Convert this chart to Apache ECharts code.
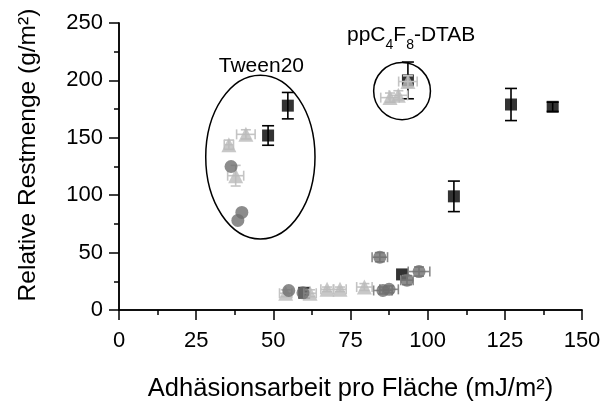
<!DOCTYPE html>
<html>
<head>
<meta charset="utf-8">
<script src="https://cdn.jsdelivr.net/npm/echarts@6/dist/echarts.min.js"></script>
<style>
  html, body { margin: 0; padding: 0; background: #fff; }
  #chart { width: 607px; height: 407px; }
</style>
</head>
<body>
<div id="chart"></div>
<script>
// Axis ranges and ticks
const xTicks = [0, 25, 50, 75, 100, 125, 150];
const yTicks = [0, 50, 100, 150, 200, 250];

// Black squares with vertical error
const squareX = [48.3, 54.7, 93.6, 91.7, 60.0, 108.5, 127.0, 140.5];
const squareY = [152, 178, 200, 31, 15, 99, 179, 177];
const squareYErr = [8.5, 11.5, 16, 0, 0, 13.3, 14, 4];

// Light grey triangles
const triX = [41.1, 35.6, 37.8, 54.0, 61.9, 67.4, 71.6, 79.5, 87.8, 90.5, 93.6];
const triY = [153, 144, 117, 14.6, 14.6, 18, 18, 20, 185, 187, 199];
const triXErr = [3, 1.5, 2.6, 2, 2, 2, 2, 2.5, 3, 3, 3];
const triYErr = [4, 4, 9, 3, 3, 2, 2, 3, 4, 4, 5];

// Grey circles
const circX = [36.3, 39.8, 38.5, 55.0, 59.6, 84.5, 85.5, 87.5, 93.3, 97.2];
const circY = [125, 85, 78, 17, 15, 46, 17, 18, 26, 33.5];
const circXErr = [0, 0, 0, 0, 0, 2.5, 3, 3, 2, 3.5];
const circYErr = [0, 0, 0, 0, 0, 4, 3, 3, 4, 4];

// Group outlines: centre x, centre y, half width (x units), half height (y units)
const tweenGroup = [45.8, 133.2, 17.7, 71.3];
const fluoroGroup = [91.7, 190.7, 9.2, 24.9];

const FONT = 'Liberation Sans, Arial, sans-serif';

function zip(...arrs) { return arrs[0].map((_, i) => arrs.map(a => a[i])); }

function errorBars(color, cap) {
  return function (params, api) {
    const x = api.value(0), y = api.value(1), ex = api.value(2), ey = api.value(3);
    const children = [];
    const style = { stroke: color, lineWidth: 1.6 };
    if (ey > 0) {
      const top = api.coord([x, y + ey]);
      const bot = api.coord([x, y - ey]);
      children.push({ type: 'line', shape: { x1: top[0], y1: top[1], x2: bot[0], y2: bot[1] }, style });
      children.push({ type: 'line', shape: { x1: top[0] - cap, y1: top[1], x2: top[0] + cap, y2: top[1] }, style });
      children.push({ type: 'line', shape: { x1: bot[0] - cap, y1: bot[1], x2: bot[0] + cap, y2: bot[1] }, style });
    }
    if (ex > 0) {
      const l = api.coord([x - ex, y]);
      const r = api.coord([x + ex, y]);
      children.push({ type: 'line', shape: { x1: l[0], y1: l[1], x2: r[0], y2: r[1] }, style });
      children.push({ type: 'line', shape: { x1: l[0], y1: l[1] - cap, x2: l[0], y2: l[1] + cap }, style });
      children.push({ type: 'line', shape: { x1: r[0], y1: r[1] - cap, x2: r[0], y2: r[1] + cap }, style });
    }
    return { type: 'group', children };
  };
}

const chart = echarts.init(document.getElementById('chart'), null, { renderer: 'canvas' });

const axisLine = { show: true, lineStyle: { color: '#000', width: 1.5 } };
const tickStyle = { color: '#000', width: 1.5 };

const option = {
  backgroundColor: '#fff',
  animation: false,
  grid: { left: 119, right: 25, top: 23, bottom: 94 },
  xAxis: [{
    type: 'value', min: xTicks[0], max: xTicks[xTicks.length - 1], interval: 25,
    position: 'bottom',
    axisLine, splitLine: { show: false },
    axisTick: { show: true, inside: false, length: 10, lineStyle: tickStyle },
    minorTick: { show: true, splitNumber: 2, length: 5, lineStyle: tickStyle },
    axisLabel: { color: '#000', fontSize: 22, fontFamily: FONT, margin: 20 },
    name: 'Adhäsionsarbeit pro Fläche (mJ/m²)', nameLocation: 'middle', nameGap: 66,
    nameTextStyle: { color: '#000', fontSize: 25.5, fontFamily: FONT }
  }, {
    type: 'value', min: xTicks[0], max: xTicks[xTicks.length - 1], interval: 25,
    position: 'top',
    axisLine, splitLine: { show: false },
    axisTick: { show: true, inside: true, length: 7, lineStyle: tickStyle },
    minorTick: { show: true, splitNumber: 2, length: 4, lineStyle: tickStyle },
    axisLabel: { show: false }
  }],
  yAxis: [{
    type: 'value', min: yTicks[0], max: yTicks[yTicks.length - 1], interval: 50,
    position: 'left',
    axisLine, splitLine: { show: false },
    axisTick: { show: true, inside: false, length: 10, lineStyle: tickStyle },
    minorTick: { show: true, splitNumber: 2, length: 5, lineStyle: tickStyle },
    axisLabel: { color: '#000', fontSize: 22, fontFamily: FONT, margin: 16 }
  }, {
    type: 'value', min: yTicks[0], max: yTicks[yTicks.length - 1], interval: 50,
    position: 'right',
    axisLine, splitLine: { show: false },
    axisTick: { show: true, inside: true, length: 7, lineStyle: tickStyle },
    minorTick: { show: true, splitNumber: 2, length: 4, lineStyle: tickStyle },
    axisLabel: { show: false }
  }],
  series: [
    {
      type: 'custom', z: 2, renderItem: errorBars('#000', 6),
      data: zip(squareX, squareY, squareX.map(() => 0), squareYErr)
    },
    {
      type: 'scatter', z: 3, symbol: 'rect', symbolSize: 12,
      itemStyle: { color: '#000' },
      data: zip(squareX, squareY)
    },
    {
      type: 'custom', z: 4, renderItem: errorBars('#c4c4c4', 5),
      data: zip(triX, triY, triXErr, triYErr)
    },
    {
      type: 'scatter', z: 5, symbol: 'triangle', symbolSize: 15,
      itemStyle: { color: '#bababa' },
      data: zip(triX, triY)
    },
    {
      type: 'custom', z: 6, renderItem: errorBars('#8a8a8a', 5),
      data: zip(circX, circY, circXErr, circYErr)
    },
    {
      type: 'scatter', z: 7, symbol: 'circle', symbolSize: 13,
      itemStyle: { color: '#6f6f6f' },
      data: zip(circX, circY)
    }
  ]
};

chart.setOption(option);

// Outline ellipses and their labels, placed through the axis scales
function ellipseFor(g) {
  const c = chart.convertToPixel({ gridIndex: 0 }, [g[0], g[1]]);
  const e = chart.convertToPixel({ gridIndex: 0 }, [g[0] + g[2], g[1] + g[3]]);
  return { cx: c[0], cy: c[1], rx: Math.abs(e[0] - c[0]), ry: Math.abs(c[1] - e[1]) };
}
const t = ellipseFor(tweenGroup);
const f = ellipseFor(fluoroGroup);
const yTitleCentre = chart.convertToPixel({ yAxisIndex: 0 }, 135);

chart.setOption({
  graphic: [
    { type: 'ellipse', shape: t, z: 10, style: { fill: 'none', stroke: '#000', lineWidth: 1.5 } },
    { type: 'ellipse', shape: f, z: 10, style: { fill: 'none', stroke: '#000', lineWidth: 1.5 } },
    {
      type: 'text', z: 11, x: t.cx + 1, y: t.cy - t.ry + 1,
      style: { text: 'Tween20', font: '21px ' + FONT, fill: '#000', align: 'center', verticalAlign: 'bottom' }
    },
    {
      type: 'text', z: 11, x: 347, y: 52,
      style: {
        text: '{a|ppC}{s|4}{a|F}{s|8}{a|-DTAB}',
        verticalAlign: 'bottom',
        rich: {
          a: { font: '21px ' + FONT, fill: '#000', verticalAlign: 'top' },
          s: { font: '14px ' + FONT, fill: '#000', verticalAlign: 'bottom', padding: [13, 0, 0, 0] }
        }
      }
    },
    {
      type: 'text', z: 11, x: 28, y: yTitleCentre, rotation: Math.PI / 2,
      style: { text: 'Relative Restmenge (g/m²)', font: '24.5px ' + FONT, fill: '#000', align: 'center', verticalAlign: 'middle' }
    }
  ]
});
</script>
</body>
</html>
